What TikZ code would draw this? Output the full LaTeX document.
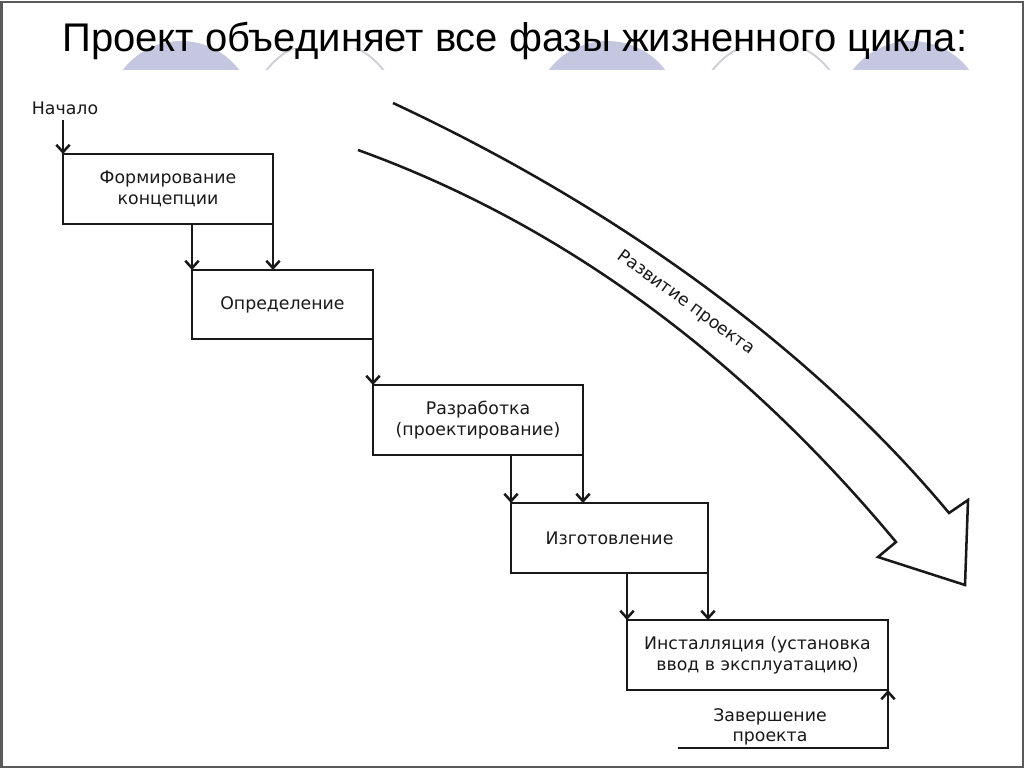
\documentclass[tikz,border=0pt]{standalone}
\usepackage{fontspec}
\setmainfont{Liberation Sans}
\newfontfamily\boxfont{DejaVu Sans}
\usetikzlibrary{arrows.meta}
\definecolor{lav}{RGB}{197,199,225}
\definecolor{arcgray}{RGB}{208,208,215}
\definecolor{ink}{RGB}{25,25,25}
\definecolor{frame}{RGB}{90,90,90}
\begin{document}
\begin{tikzpicture}[x=0.75pt,y=-0.75pt,
  stagebox/.style={draw=ink,line width=1.9pt,inner sep=0pt,outer sep=0pt,minimum height=52.5pt,align=center,font=\boxfont\fontsize{13}{15.5}\selectfont,text=ink},
  arr/.style={draw=ink,line width=1.9pt,-{Straight Barb[length=5.5pt,width=10pt,line width=1.9pt]}},
  lbl/.style={font=\boxfont\fontsize{13}{15.5}\selectfont,text=ink,align=center,inner sep=0pt},
  bigarrow/.style={draw=ink,line width=1.9pt,line join=miter}]
\useasboundingbox (0,0) rectangle (1024,768);
\fill[white] (0,0) rectangle (1024,768);
% background domes
\begin{scope}
  \clip (0,0) rectangle (1024,69);
  \fill[lav] (181,114) circle[radius=73];
  \fill[lav] (607,114) circle[radius=73];
  \fill[lav] (911,114) circle[radius=73];
\end{scope}
\begin{scope}
  \clip (0,48) rectangle (1024,69);
  \draw[arcgray,line width=1.5pt] (325,114) circle[radius=73];
  \draw[arcgray,line width=1.5pt] (771,114) circle[radius=73];
\end{scope}
\draw[frame,line width=1.5pt] (1.5,1.5) rectangle (1022.5,766.5);
% title
\node[anchor=base west,inner sep=0pt,font=\fontsize{30}{35}\selectfont] (title) at (62,51) {Проект объединяет все фазы жизненного цикла:};
% stages
\node[stagebox,minimum width=157.5pt] (b1) at (168,189) {Формирование\\концепции};
\node[stagebox,minimum width=135.75pt,minimum height=51.75pt] (b2) at (282.5,304.5) {Определение};
\node[stagebox,minimum width=157.5pt] (b3) at (478,420) {Разработка\\(проектирование)};
\node[stagebox,minimum width=147.75pt] (b4) at (609.5,538) {Изготовление};
\node[stagebox,minimum width=195.75pt] (b5) at (757.5,655) {Инсталляция (установка\\ввод в эксплуатацию)};
% start
\node[lbl] (start) at (65,108) {Начало};
\coordinate (s) at (63,120);
\draw[arr] (s) -- (b1.north west);
% connections
\draw[arr] (b1.south -| b2.north west) -- (b2.north west);
\draw[arr] (b1.south east) -- (b1.south east |- b2.north);
\draw[arr] (b2.south east) -- (b3.north west);
\draw[arr] (b3.south -| b4.north west) -- (b4.north west);
\draw[arr] (b3.south east) -- (b3.south east |- b4.north);
\draw[arr] (b4.south -| b5.north west) -- (b5.north west);
\draw[arr] (b4.south east) -- (b4.south east |- b5.north);
% end
\node[lbl] (fin) at (770,727) {Завершение\\проекта};
\coordinate (e) at (678,748);
\draw[arr] (e) -| (b5.south east);
% big curved arrow
\draw[bigarrow] (358,150) .. controls (593,235) and (768,388) .. (896,542) -- (878,557) -- (965,585) -- (968,500) -- (949,513) .. controls (821,359) and (629,213) .. (393,103);
\node[lbl,rotate=-36] (dev) at (686,303) {Развитие проекта};
\end{tikzpicture}
\end{document}
